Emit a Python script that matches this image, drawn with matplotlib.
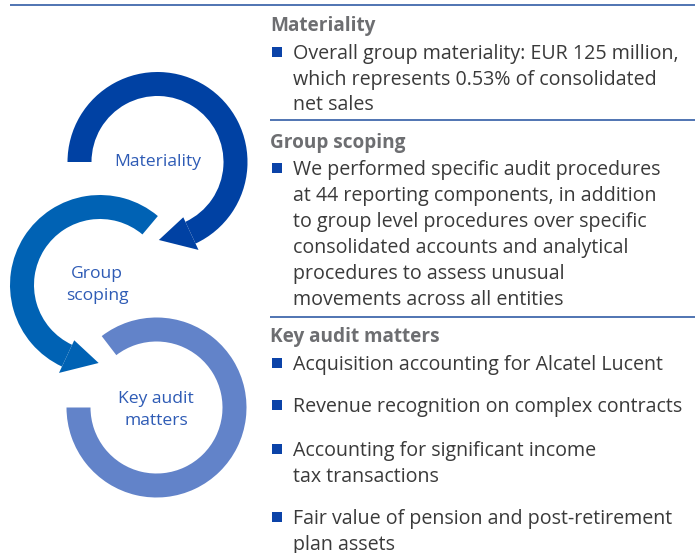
import matplotlib
matplotlib.use("Agg")
import matplotlib.pyplot as plt
from matplotlib.patches import Wedge, Polygon, Rectangle
import numpy as np

W, H = 697, 553

# ---- content ----
circle_labels = [["Materiality"], ["Group", "scoping"], ["Key audit", "matters"]]
headings = ["Materiality", "Group scoping", "Key audit matters"]
materiality_bullets = [["Overall group materiality: EUR 125 million,",
                        "which represents 0.53% of consolidated",
                        "net sales"]]
scoping_bullets = [["We performed specific audit procedures",
                    "at 44 reporting components, in addition",
                    "to group level procedures over specific",
                    "consolidated accounts and analytical",
                    "procedures to assess unusual",
                    "movements across all entities"]]
kam_bullets = [["Acquisition accounting for Alcatel Lucent"],
               ["Revenue recognition on complex contracts"],
               ["Accounting for significant income", "tax transactions"],
               ["Fair value of pension and post-retirement", "plan assets"]]

# ---- style ----
ring_colors = ["#0041A3", "#0062B4", "#6283C9"]
label_color = "#2E5BB5"
heading_color = "#6D6E71"
body_color = "#3A3A3A"
bullet_color = "#0B43A8"
rule_color = "#1F4E9E"
FONT = "Open Sans"

fig = plt.figure(figsize=(W / 100, H / 100), dpi=100)
ax = fig.add_axes([0, 0, 1, 1])
ax.set_xlim(0, W)
ax.set_ylim(0, H)
ax.axis("off")


def Y(p):
    return H - p


def px2pt(px):
    return px * 72 / 100


# ---- rings ----
r_in, r_out = 66, 90
r_mid = (r_in + r_out) / 2
rings = [
    dict(c=(157.5, 162), t1=-65, t2=180, arrow=(-65, -89)),
    dict(c=(100, 285), t1=50, t2=245, arrow=(245, 269)),
    dict(c=(156.5, 407.5), t1=180, t2=487.5, arrow=None),
]
for ring, col in zip(rings, ring_colors):
    cx, cy = ring["c"][0], Y(ring["c"][1])
    ax.add_patch(Wedge((cx, cy), r_out, ring["t1"], ring["t2"], width=r_out - r_in,
                       facecolor=col, edgecolor="none"))
    if ring["arrow"]:
        b, t = np.radians(ring["arrow"][0]), np.radians(ring["arrow"][1])
        p1 = (cx + 61 * np.cos(b), cy + 61 * np.sin(b))
        p2 = (cx + 97 * np.cos(b), cy + 97 * np.sin(b))
        tip = (cx + r_mid * np.cos(t), cy + r_mid * np.sin(t))
        ax.add_patch(Polygon([p1, p2, tip], closed=True, facecolor=col, edgecolor="none"))

label_pos = [(158, [160]), (97, [272, 294]), (156, [397, 419])]
for lines, (x, ys) in zip(circle_labels, label_pos):
    for s, y in zip(lines, ys):
        ax.text(x, Y(y + 6), s, ha="center", va="baseline", fontsize=px2pt(17.5),
                color=label_color, family=FONT)

# ---- rules ----
ax.plot([10, 695], [Y(5), Y(5)], color=rule_color, lw=1.1, solid_capstyle="butt")
for yy in (120, 317):
    ax.plot([270, 695], [Y(yy), Y(yy)], color=rule_color, lw=1.1, solid_capstyle="butt")

# ---- right text ----
head_y = [24, 141, 335]
sections = [
    (materiality_bullets, [[52, 78, 103]]),
    (scoping_bullets, [[168, 194, 220, 246, 272, 298]]),
    (kam_bullets, [[363], [405], [449, 475], [517, 543]]),
]
body_px = 19.6
for h, hy in zip(headings, head_y):
    ax.text(270, Y(hy + 7), h, ha="left", va="baseline", fontsize=px2pt(19),
            fontweight="bold", color=heading_color, family=FONT)

for bullets, ys_list in sections:
    for lines, ys in zip(bullets, ys_list):
        ax.add_patch(Rectangle((272, Y(ys[0] + 5)), 10, 10, facecolor=bullet_color,
                               edgecolor="none"))
        for s, y in zip(lines, ys):
            ax.text(293, Y(y + 7), s, ha="left", va="baseline", fontsize=px2pt(body_px),
                    color=body_color, family=FONT)

fig.savefig("out.png", dpi=100, facecolor="white")
